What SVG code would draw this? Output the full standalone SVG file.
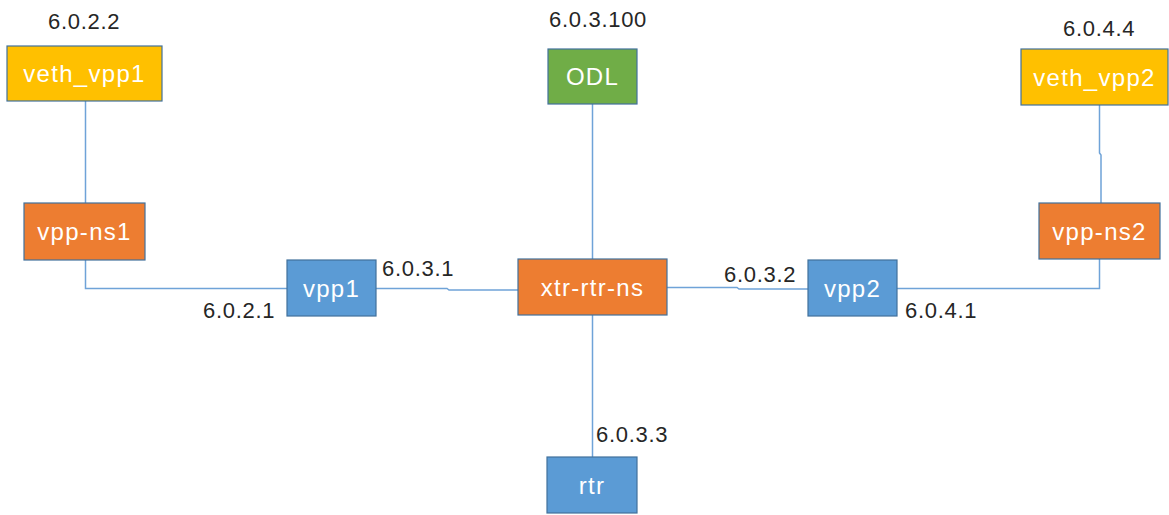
<svg xmlns="http://www.w3.org/2000/svg" width="1169" height="515" viewBox="0 0 1169 515">
<style>
.box{stroke:#41719C;stroke-width:1.2}
.y{fill:#FFC000}
.o{fill:#ED7D31}
.b{fill:#5B9BD5}
.g{fill:#70AD47}
.lbl{font-family:"Liberation Sans",Arial,sans-serif;font-size:24px;fill:#ffffff;text-anchor:middle;letter-spacing:1.3px}
.ip{font-family:"Liberation Sans",Arial,sans-serif;font-size:22px;fill:#262626;letter-spacing:0.7px}
.c{fill:none;stroke:#6FA3D8;stroke-width:1.5}
</style>
<rect width="1169" height="515" fill="#ffffff"/>
<g id="connectors">
<path class="c" d="M85.5 101 V203"/>
<path class="c" d="M85.5 260 V288.5 H287"/>
<path class="c" d="M376 288.5 H447 L449 290 H518"/>
<path class="c" d="M592.5 104 V259"/>
<path class="c" d="M592.5 315 V457"/>
<path class="c" d="M667 287.5 H737 L739 289 H808"/>
<path class="c" d="M897 288.5 H1099.5 V259"/>
<path class="c" d="M1099.5 105 V153 L1101 155 V203"/>
</g>
<g id="veth_vpp1"><rect class="box y" x="7" y="46" width="155" height="55"/><text class="lbl" x="84.5" y="82">veth_vpp1</text></g>
<g id="vpp-ns1"><rect class="box o" x="24" y="203" width="121" height="57"/><text class="lbl" x="84.5" y="240">vpp-ns1</text></g>
<g id="vpp1"><rect class="box b" x="287" y="260" width="89" height="56"/><text class="lbl" x="331.5" y="297">vpp1</text></g>
<g id="ODL"><rect class="box g" x="548" y="49" width="89" height="55"/><text class="lbl" x="592.5" y="85">ODL</text></g>
<g id="xtr-rtr-ns"><rect class="box o" x="518" y="259" width="149" height="56"/><text class="lbl" x="592.5" y="296">xtr-rtr-ns</text></g>
<g id="vpp2"><rect class="box b" x="808" y="260" width="89" height="56"/><text class="lbl" x="852.5" y="297">vpp2</text></g>
<g id="veth_vpp2"><rect class="box y" x="1021" y="49" width="147" height="56"/><text class="lbl" x="1094.5" y="86">veth_vpp2</text></g>
<g id="vpp-ns2"><rect class="box o" x="1039" y="203" width="121" height="56"/><text class="lbl" x="1099.5" y="240">vpp-ns2</text></g>
<g id="rtr"><rect class="box b" x="547" y="457" width="90" height="56"/><text class="lbl" x="592" y="494">rtr</text></g>
<g id="ip-labels">
<text class="ip" x="48" y="29">6.0.2.2</text>
<text class="ip" x="549" y="27">6.0.3.100</text>
<text class="ip" x="1063" y="36">6.0.4.4</text>
<text class="ip" x="203" y="318">6.0.2.1</text>
<text class="ip" x="382" y="276">6.0.3.1</text>
<text class="ip" x="724" y="282">6.0.3.2</text>
<text class="ip" x="905" y="318">6.0.4.1</text>
<text class="ip" x="596" y="442">6.0.3.3</text>
</g>
</svg>
